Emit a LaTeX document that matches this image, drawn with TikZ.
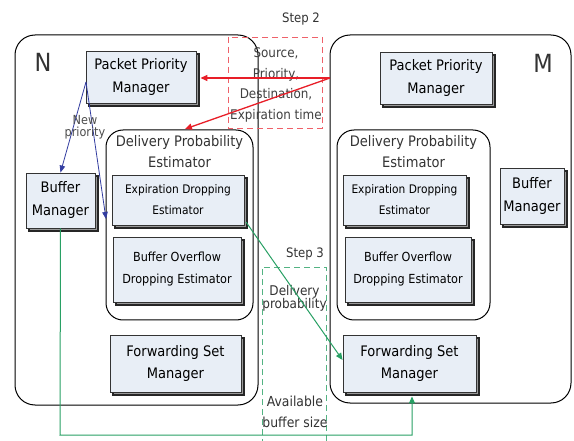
\documentclass[tikz,border=0pt]{standalone}
\usepackage{fontspec}
\setmainfont{DejaVu Sans Condensed}
\usetikzlibrary{arrows.meta,calc}
\definecolor{boxfill}{RGB}{232,238,246}
\definecolor{redc}{RGB}{232,30,40}
\definecolor{bluec}{RGB}{50,60,160}
\definecolor{greenc}{RGB}{40,160,100}
\tikzset{
  mbox/.style={draw=black!80, line width=0.9pt, fill=boxfill, align=center, inner sep=1pt,
    preaction={fill=black!40, draw=black!85, line width=1.2pt, transform canvas={xshift=3pt, yshift=-3pt}}},
  bigbox/.style={draw=black, line width=1pt, rounded corners=20pt},
  midbox/.style={draw=black, line width=1pt, rounded corners=17pt},
  lbl/.style={align=center, inner sep=0pt, text=black!80},
  redarr/.style={draw=redc, line width=1.3pt, -{Triangle[length=7pt,width=6pt]}},
  bluearr/.style={draw=bluec, line width=0.8pt, -{Triangle[length=7pt,width=5.5pt]}},
  greenarr/.style={draw=greenc, line width=1pt, -{Triangle[length=7pt,width=6pt]}},
}
\begin{document}
\begin{tikzpicture}[x=1pt,y=-1pt]
\useasboundingbox (0,0) rectangle (574,441);
\fill[white] (0,0) rectangle (574,441);
% big containers
\draw[bigbox] (15,35) rectangle (258,405);
\draw[bigbox] (330,35) rectangle (571,403);
\node[lbl, font=\fontsize{25}{26}\selectfont] (nlab) at (43,62) {N};
\node[lbl, font=\fontsize{25}{26}\selectfont] (mlab) at (543,63) {M};
% delivery probability estimator containers
\draw[midbox] (106,130) rectangle (253,320);
\draw[midbox] (337,130) rectangle (490,320);
\node[lbl, font=\fontsize{14.5}{21}\selectfont] (dpeN) at (179.5,152) {Delivery Probability\\Estimator};
\node[lbl, font=\fontsize{14.5}{21}\selectfont] (dpeM) at (413.5,152) {Delivery Probability\\Estimator};
\coordinate (dpeNtop) at (185,129);
\coordinate (dpeNleft) at (106,219);
% boxes
\begin{scope}[font=\fontsize{14.5}{23}\selectfont]
\node[mbox, minimum width=110pt, minimum height=52pt] (ppmN) at (141,77) {Packet Priority\\Manager};
\node[mbox, minimum width=112pt, minimum height=52pt] (ppmM) at (436,78) {Packet Priority\\Manager};
\node[mbox, minimum width=69pt, minimum height=55pt] (bmN) at (60.5,200.5) {Buffer\\Manager};
\node[mbox, minimum width=64pt, minimum height=56pt] (bmM) at (532,196) {Buffer\\Manager};
\node[mbox, minimum width=131pt, minimum height=57pt] (fsmN) at (175.5,363.5) {Forwarding Set\\Manager};
\node[mbox, minimum width=133pt, minimum height=57pt] (fsmM) at (409.5,363.5) {Forwarding Set\\Manager};
\end{scope}
\begin{scope}[font=\fontsize{11.8}{21}\selectfont]
\node[mbox, minimum width=132pt, minimum height=50pt] (edeN) at (178,200) {Expiration Dropping\\Estimator};
\node[mbox, minimum width=123pt, minimum height=50pt] (edeM) at (404.5,200) {Expiration Dropping\\Estimator};
\end{scope}
\begin{scope}[font=\fontsize{12.5}{22}\selectfont]
\node[mbox, minimum width=128pt, minimum height=65pt] (bodeN) at (177,269.5) {Buffer Overflow\\Dropping Estimator};
\node[mbox, minimum width=126pt, minimum height=65pt] (bodeM) at (408,269.5) {Buffer Overflow\\Dropping Estimator};
\end{scope}
% step 2
\draw[redc!70, dash pattern=on 6pt off 4pt, line width=0.8pt] (228,37) rectangle (322,128);
\node[lbl, font=\fontsize{13}{20}\selectfont] (step2) at (301,19) {Step 2};
\node[lbl, font=\fontsize{13.3}{20.5}\selectfont, text=black!75] (s2txt) at (276,85) {Source,\\Priority,\\Destination,\\Expiration time};
% step 3
\draw[greenc!80, dash pattern=on 6pt off 4pt, line width=0.8pt] (262,445) -- (262,267) -- (326,267) -- (326,445);
\node[lbl, font=\fontsize{13}{20}\selectfont] (step3) at (305,254) {Step 3};
\node[lbl, font=\fontsize{13.4}{13}\selectfont] (s3a) at (294.5,298) {Delivery\\probability};
\node[lbl, font=\fontsize{13.8}{21}\selectfont] (s3b) at (295,412) {Available\\buffer size};
% red arrows
\coordinate (r0) at (330,78);
\draw[redarr] (r0) -- ($(ppmN.east |- r0)+(4,0)$);
\draw[redarr] (r0) -- (dpeNtop);
% blue arrows
\coordinate (b0) at (86,82);
\draw[bluearr] (b0) -- (bmN.north);
\draw[bluearr] (b0) -- (dpeNleft);
\node[lbl, font=\fontsize{12.5}{12}\selectfont, text=black!70] (newp) at (85,127) {New\\priority};
% green arrows
\coordinate (g0) at (246,222);
\draw[greenarr] (g0) -- (fsmM.west |- 0,360);
\draw[greenarr] (bmN.south) -- (60,435) -- (412,435) -- ($(fsmM.south -| 412,0)+(0,4)$);
\end{tikzpicture}
\end{document}
